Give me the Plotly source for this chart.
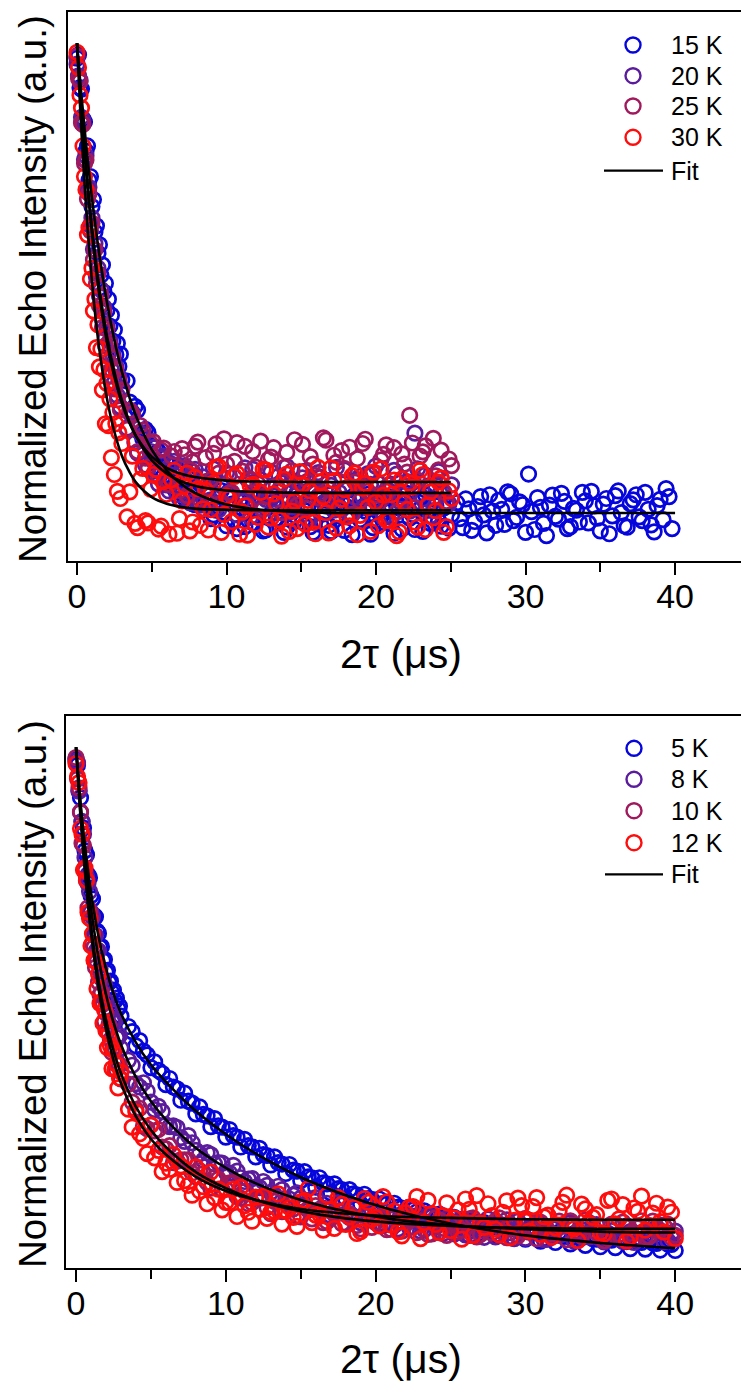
import plotly.graph_objects as go

# ---------------------------------------------------------------- data
# Echo time axis (2tau, microseconds); each scan was recorded on two interleaved grids
TAU_TOP = [0.0, 0.1, 0.2, 0.3, 0.4, 0.5, 0.6, 0.7, 0.8, 0.9,
           1.0, 1.1, 1.2, 1.3, 1.4, 1.5, 1.6, 1.7, 1.8, 1.9,
           2.0, 2.1, 2.2, 2.3, 2.4, 2.5, 2.6, 2.7, 2.8, 2.9,
           3.0,
           3.35, 3.7, 4.05, 4.4, 4.75,
           5.1, 5.45, 5.8, 6.15, 6.5,
           6.85, 7.2, 7.55, 7.9, 8.25,
           8.6, 8.95, 9.3, 9.65, 10.0,
           10.35, 10.7, 11.05, 11.4, 11.75,
           12.1, 12.45, 12.8, 13.15, 13.5,
           13.85, 14.2, 14.55, 14.9, 15.25,
           15.6, 15.95, 16.3, 16.65, 17.0,
           17.35, 17.7, 18.05, 18.4, 18.75,
           19.1, 19.45, 19.8, 20.15, 20.5,
           20.85, 21.2, 21.55, 21.9, 22.25,
           22.6, 22.95, 23.3, 23.65, 24.0,
           24.35, 24.7, 25.05]

TAU_TOP_MID = [3.53, 3.88, 4.23, 4.58, 4.93,
               5.28, 5.63, 5.98, 6.33, 6.68,
               7.03, 7.38, 7.73, 8.08, 8.43,
               8.78, 9.13, 9.48, 9.83, 10.18,
               10.53, 10.88, 11.23, 11.58, 11.93,
               12.28, 12.63, 12.98, 13.33, 13.68,
               14.03, 14.38, 14.73, 15.08, 15.43,
               15.78, 16.13, 16.48, 16.83, 17.18,
               17.53, 17.88, 18.23, 18.58, 18.93,
               19.28, 19.63, 19.98, 20.33, 20.68,
               21.03, 21.38, 21.73, 22.08, 22.43,
               22.78, 23.13, 23.48, 23.83, 24.18,
               24.53, 24.88]

TAU_15K_EXTRA = [25.4, 25.8, 26.2, 26.6, 27.0, 27.4, 27.8, 28.2, 28.6, 29.0,
                 29.4, 29.8, 30.2, 30.6, 31.0, 31.4, 31.8, 32.2, 32.6, 33.0,
                 33.4, 33.8, 34.2, 34.6, 35.0, 35.4, 35.8, 36.2, 36.6, 37.0,
                 37.4, 37.8, 38.2, 38.6, 39.0, 39.4, 39.8]

TAU_15K_EXTRA_MID = [25.6, 26.0, 26.4, 26.8, 27.2, 27.6, 28.0, 28.4, 28.8, 29.2,
                     29.6, 30.0, 30.4, 30.8, 31.2, 31.6, 32.0, 32.4, 32.8, 33.2,
                     33.6, 34.0, 34.4, 34.8, 35.2, 35.6, 36.0, 36.4, 36.8, 37.2,
                     37.6, 38.0, 38.4, 38.8, 39.2, 39.6]

TAU_BOT = [0.0, 0.1, 0.2, 0.3, 0.4, 0.5, 0.6, 0.7, 0.8, 0.9,
           1.0, 1.1, 1.2, 1.3, 1.4, 1.5, 1.6, 1.7, 1.8, 1.9,
           2.0, 2.1, 2.2, 2.3, 2.4, 2.5, 2.6, 2.7, 2.8, 2.9,
           3.0,
           3.5, 4.0, 4.5, 5.0, 5.5, 6.0, 6.5, 7.0, 7.5,
           8.0, 8.5, 9.0, 9.5, 10.0, 10.5, 11.0, 11.5, 12.0,
           12.5, 13.0, 13.5, 14.0, 14.5, 15.0, 15.5, 16.0, 16.5,
           17.0, 17.5, 18.0, 18.5, 19.0, 19.5, 20.0, 20.5, 21.0,
           21.5, 22.0, 22.5, 23.0, 23.5, 24.0, 24.5, 25.0, 25.5,
           26.0, 26.5, 27.0, 27.5, 28.0, 28.5, 29.0, 29.5, 30.0,
           30.5, 31.0, 31.5, 32.0, 32.5, 33.0, 33.5, 34.0, 34.5,
           35.0, 35.5, 36.0, 36.5, 37.0, 37.5, 38.0, 38.5, 39.0,
           39.5, 40.0]

TAU_BOT_MID = [3.75, 4.25, 4.75, 5.25, 5.75, 6.25, 6.75, 7.25, 7.75,
               8.25, 8.75, 9.25, 9.75, 10.25, 10.75, 11.25, 11.75, 12.25,
               12.75, 13.25, 13.75, 14.25, 14.75, 15.25, 15.75, 16.25, 16.75,
               17.25, 17.75, 18.25, 18.75, 19.25, 19.75, 20.25, 20.75, 21.25,
               21.75, 22.25, 22.75, 23.25, 23.75, 24.25, 24.75, 25.25, 25.75,
               26.25, 26.75, 27.25, 27.75, 28.25, 28.75, 29.25, 29.75, 30.25,
               30.75, 31.25, 31.75, 32.25, 32.75, 33.25, 33.75, 34.25, 34.75,
               35.25, 35.75, 36.25, 36.75, 37.25, 37.75, 38.25, 38.75, 39.25,
               39.75]

# Normalized echo intensities, upper panel (15 K - 30 K)
I_15K = [0.968, 0.975, 0.905, 0.902, 0.838, 0.832, 0.770, 0.781, 0.708, 0.716,
         0.652, 0.667, 0.598, 0.611, 0.553, 0.571, 0.506, 0.528, 0.470, 0.489,
         0.431, 0.455, 0.398, 0.421, 0.366, 0.390, 0.337, 0.361, 0.312, 0.338,
         0.284,
         0.281, 0.214, 0.219, 0.158, 0.171,
         0.112, 0.131, 0.079, 0.104, 0.052,
         0.088, 0.031, 0.072, 0.018, 0.061,
         0.041, -0.012, 0.006, 0.048, -0.027,
         0.019, -0.033, 0.030, 0.002, -0.021,
         0.036, -0.038, -0.008, 0.024, 0.011,
         -0.041, 0.027, -0.017, 0.033, 0.005,
         -0.029, 0.044, -0.024, 0.015, -0.039,
         -0.006, 0.022, 0.031, -0.046, 0.008,
         -0.018, 0.040, -0.031, 0.003, -0.020,
         0.034, -0.043, 0.011, 0.026, -0.011,
         -0.035, 0.009, 0.039, -0.022, 0.016,
         -0.028, 0.021, -0.004]
I_15K_MID = [0.236, 0.227, 0.171, 0.178, 0.124,
             0.140, 0.089, 0.107, 0.063, 0.095,
             0.041, 0.078, 0.020, 0.067, 0.009,
             0.053, -0.004, 0.037, 0.002, 0.046,
             -0.015, 0.028, -0.029, 0.040, -0.006,
             0.019, -0.036, 0.031, -0.012, 0.025,
             -0.030, 0.008, 0.043, -0.019, 0.014,
             -0.041, 0.035, -0.002, -0.026, 0.029,
             0.013, -0.037, 0.020, 0.038, -0.014,
             0.004, -0.045, 0.027, -0.008, 0.032,
             -0.023, 0.016, -0.034, 0.042, -0.003,
             0.024, -0.039, 0.006, 0.030, -0.017,
             0.011, -0.032]
I_15K_EXTRA = [0.022, -0.031, 0.009, -0.018, 0.035, -0.042, 0.004, 0.027, -0.024, 0.041,
               -0.009, 0.018, 0.083, -0.035, 0.012, -0.048, 0.038, -0.013, 0.025, -0.029,
               0.006, 0.044, -0.021, 0.015, -0.038, 0.031, -0.006, 0.047, -0.027, 0.020,
               0.039, -0.016, 0.008, -0.040, 0.029, 0.052, -0.033]
I_15K_EXTRA_MID = [-0.012, 0.030, -0.037, 0.014, -0.004, 0.039, -0.026, 0.008, 0.045, -0.016,
                   0.024, -0.041, 0.003, 0.033, -0.022, 0.017, -0.007, 0.042, -0.033, 0.010,
                   -0.019, 0.026, 0.046, -0.011, 0.019, -0.044, 0.037, 0.001, -0.030, 0.028,
                   -0.008, 0.044, -0.025, 0.016, -0.014, 0.035]

I_20K = [0.955, 0.930, 0.921, 0.842, 0.835, 0.752, 0.760, 0.688, 0.693, 0.612,
         0.628, 0.561, 0.573, 0.503, 0.521, 0.462, 0.476, 0.411, 0.438, 0.372,
         0.398, 0.339, 0.366, 0.305, 0.337, 0.278, 0.311, 0.250, 0.289, 0.226,
         0.266,
         0.181, 0.207, 0.128, 0.165, 0.094,
         0.139, 0.062, 0.121, 0.047, 0.110,
         0.030, 0.101, 0.022, 0.093, 0.017,
         0.067, 0.028, 0.011, 0.058, 0.085,
         0.040, -0.004, 0.026, 0.072, 0.093,
         0.047, 0.015, -0.008, 0.036, 0.079,
         0.054, 0.002, 0.068, 0.031, 0.089,
         -0.012, 0.044, 0.076, 0.021, 0.059,
         0.097, 0.008, 0.050, -0.003, 0.071,
         0.035, 0.084, 0.012, 0.063, -0.010,
         0.048, 0.091, 0.025, 0.057, 0.004,
         0.170, 0.039, 0.081, -0.006, 0.052,
         0.074, 0.017, 0.060]
I_20K_MID = [0.213, 0.149, 0.171, 0.102, 0.131,
             0.081, 0.117, 0.060, 0.104, 0.039,
             0.095, 0.033, 0.088, 0.019, 0.077,
             0.026, 0.094, 0.007, 0.061, 0.082,
             0.018, 0.053, 0.096, -0.009, 0.045,
             0.071, 0.029, 0.087, 0.001, 0.064,
             0.099, 0.013, 0.039, 0.075, -0.013,
             0.056, 0.086, 0.022, 0.069, 0.006,
             0.044, 0.092, -0.005, 0.034, 0.078,
             0.016, 0.061, 0.100, 0.027, 0.049,
             -0.008, 0.083, 0.038, 0.067, 0.011,
             0.094, 0.030, 0.058, 0.005, 0.088,
             0.042, 0.020]

I_25K = [0.972, 0.925, 0.918, 0.830, 0.827, 0.744, 0.751, 0.668, 0.680, 0.600,
         0.617, 0.539, 0.560, 0.487, 0.509, 0.441, 0.463, 0.395, 0.428, 0.356,
         0.391, 0.322, 0.357, 0.292, 0.330, 0.264, 0.305, 0.241, 0.283, 0.220,
         0.262,
         0.178, 0.211, 0.131, 0.176, 0.098,
         0.152, 0.079, 0.138, 0.061, 0.131,
         0.048, 0.124, 0.092, 0.142, 0.029,
         0.118, 0.071, 0.147, 0.021, 0.104,
         0.044, 0.150, 0.089, 0.016, 0.131,
         0.062, 0.008, 0.114, 0.139, 0.049,
         0.097, 0.024, 0.156, 0.063, 0.011,
         0.120, 0.080, 0.041, 0.155, 0.027,
         0.108, 0.133, 0.054, -0.003, 0.116,
         0.148, 0.046, 0.085, 0.019, 0.125,
         0.060, 0.139, 0.031, 0.104, 0.208,
         0.012, 0.121, 0.143, 0.052, 0.079,
         0.134, 0.025, 0.101]
I_25K_MID = [0.219, 0.152, 0.186, 0.117, 0.148,
             0.093, 0.134, 0.071, 0.121, 0.055,
             0.137, 0.037, 0.109, 0.151, 0.064,
             0.022, 0.127, 0.085, 0.158, 0.043,
             0.110, 0.006, 0.142, 0.072, 0.098,
             0.153, 0.035, 0.119, 0.058, 0.001,
             0.129, 0.090, 0.017, 0.146, 0.068,
             0.104, 0.033, 0.160, 0.051, 0.123,
             0.009, 0.095, 0.140, 0.066, 0.026,
             0.157, 0.081, 0.038, 0.113, 0.145,
             0.053, 0.002, 0.126, 0.087, 0.149,
             0.070, 0.130, 0.020, 0.159, 0.092,
             0.045, 0.115]

I_30K = [0.980, 0.948, 0.889, 0.862, 0.781, 0.716, 0.688, 0.592, 0.607, 0.498,
         0.521, 0.430, 0.455, 0.352, 0.401, 0.311, 0.349, 0.262, 0.305, 0.190,
         0.276, 0.186, 0.243, 0.118, 0.214, 0.082, 0.190, 0.046, 0.171, 0.031,
         0.148,
         -0.008, 0.121, -0.031, 0.095, -0.021,
         0.082, -0.034, 0.067, -0.045, 0.091,
         -0.012, 0.058, -0.038, 0.076, -0.026,
         0.049, 0.007, 0.098, -0.041, 0.036,
         -0.018, 0.084, 0.002, -0.047, 0.061,
         -0.009, 0.093, -0.030, 0.041, -0.014,
         0.072, -0.039, 0.025, 0.088, -0.023,
         0.047, -0.044, 0.066, 0.001, 0.096,
         -0.032, 0.029, -0.008, 0.079, -0.046,
         0.053, 0.012, 0.087, -0.027, 0.038,
         -0.016, 0.070, -0.040, 0.022, 0.064,
         -0.019, 0.091, -0.035, 0.045, 0.005,
         0.075, -0.029, 0.031]
I_30K_MID = [0.045, -0.022, 0.072, -0.016, 0.051,
             0.093, -0.028, 0.040, 0.071, -0.043,
             0.026, 0.085, -0.019, 0.052, 0.009,
             -0.036, 0.064, 0.099, -0.003, 0.031,
             0.078, -0.045, 0.016, 0.058, -0.024,
             0.044, 0.092, -0.011, 0.020, -0.049,
             0.083, 0.004, -0.033, 0.060, 0.027,
             -0.020, 0.097, 0.035, -0.042, 0.069,
             0.011, 0.050, -0.027, 0.085, -0.005,
             0.063, -0.039, 0.024, 0.094, -0.015,
             0.039, -0.048, 0.073, 0.008, 0.055,
             -0.030, 0.082, 0.017, -0.010, 0.066,
             -0.041, 0.047]

# Normalized echo intensities, lower panel (5 K - 12 K)
I_5K = [0.975, 0.962, 0.908, 0.893, 0.842, 0.829, 0.781, 0.772, 0.730, 0.724,
        0.686, 0.679, 0.644, 0.641, 0.611, 0.606, 0.577, 0.578, 0.549, 0.551,
        0.524, 0.528, 0.503, 0.505, 0.481, 0.486, 0.463, 0.469, 0.447, 0.452,
        0.431,
        0.409, 0.368, 0.357, 0.322, 0.316, 0.286, 0.281, 0.253, 0.251,
        0.224, 0.223, 0.197, 0.199, 0.175, 0.178, 0.154, 0.157, 0.133,
        0.138, 0.116, 0.121, 0.098, 0.105, 0.083, 0.091, 0.069, 0.078,
        0.057, 0.066, 0.044, 0.055, 0.033, 0.045, 0.022, 0.035, 0.013,
        0.027, 0.004, 0.021, -0.004, 0.012, -0.009, 0.004, -0.016, -0.003,
        -0.022, -0.008, -0.027, -0.014, -0.032, -0.018, -0.037, -0.023, -0.041,
        -0.027, -0.045, -0.030, -0.048, -0.034, -0.051, -0.037, -0.054, -0.040,
        -0.057, -0.042, -0.059, -0.045, -0.061, -0.047, -0.062, -0.049, -0.064,
        -0.051, -0.065]
I_5K_MID = [0.398, 0.379, 0.349, 0.334, 0.310, 0.299, 0.277, 0.268, 0.247,
            0.239, 0.220, 0.214, 0.196, 0.191, 0.175, 0.170, 0.154, 0.151,
            0.136, 0.133, 0.118, 0.117, 0.103, 0.102, 0.089, 0.089, 0.076,
            0.076, 0.064, 0.064, 0.053, 0.054, 0.043, 0.044, 0.033, 0.035,
            0.025, 0.027, 0.017, 0.019, 0.009, 0.012, 0.002, 0.005, -0.005,
            -0.001, -0.010, -0.006, -0.015, -0.010, -0.020, -0.015, -0.024, -0.019,
            -0.028, -0.023, -0.031, -0.026, -0.035, -0.029, -0.038, -0.032, -0.041,
            -0.035, -0.043, -0.038, -0.046, -0.040, -0.048, -0.042, -0.050, -0.044,
            -0.052]

I_8K = [0.971, 0.967, 0.907, 0.862, 0.843, 0.816, 0.766, 0.725, 0.712, 0.695,
        0.651, 0.641, 0.602, 0.602, 0.571, 0.569, 0.531, 0.511, 0.509, 0.499,
        0.462, 0.476, 0.446, 0.442, 0.420, 0.424, 0.422, 0.386, 0.385, 0.390,
        0.363,
        0.338, 0.288, 0.290, 0.249, 0.240, 0.201, 0.199, 0.174, 0.178,
        0.147, 0.126, 0.138, 0.121, 0.101, 0.115, 0.089, 0.086, 0.069,
        0.081, 0.058, 0.071, 0.040, 0.052, 0.046, 0.021, 0.047, 0.025,
        0.009, 0.036, 0.012, 0.030, -0.006, 0.011, 0.024, -0.012, 0.008,
        -0.019, 0.014, -0.001, -0.024, 0.010, -0.015, -0.029, 0.006, -0.008,
        -0.032, -0.004, -0.021, 0.002, -0.036, -0.011, -0.027, -0.003, -0.039,
        -0.016, -0.008, -0.041, -0.019, -0.030, -0.006, -0.043, -0.022, -0.012,
        -0.040, -0.028, -0.009, -0.045, -0.025, -0.014, -0.038, -0.031, -0.011,
        -0.044, -0.024]
I_8K_MID = [0.327, 0.281, 0.272, 0.233, 0.229, 0.197, 0.195, 0.166, 0.163,
            0.140, 0.142, 0.118, 0.120, 0.099, 0.103, 0.081, 0.087, 0.068,
            0.073, 0.053, 0.064, 0.044, 0.057, 0.031, 0.044, 0.022, 0.035,
            0.012, 0.031, 0.005, 0.027, -0.002, 0.020, -0.008, 0.017, -0.012,
            0.012, -0.016, 0.009, -0.021, 0.006, -0.026, 0.003, -0.030, 0.001,
            -0.033, -0.005, -0.037, -0.009, -0.031, 0.000, -0.040, -0.013, -0.026,
            -0.004, -0.042, -0.017, -0.033, -0.007, -0.045, -0.020, -0.036, -0.010,
            -0.047, -0.023, -0.039, -0.013, -0.048, -0.027, -0.034, -0.016, -0.046,
            -0.029]

I_10K = [0.978, 0.933, 0.914, 0.863, 0.797, 0.792, 0.737, 0.717, 0.660, 0.651,
         0.636, 0.585, 0.577, 0.534, 0.547, 0.503, 0.476, 0.481, 0.456, 0.420,
         0.437, 0.400, 0.413, 0.381, 0.354, 0.365, 0.360, 0.317, 0.331, 0.327,
         0.298,
         0.287, 0.233, 0.198, 0.200, 0.191, 0.150, 0.121, 0.127, 0.127,
         0.091, 0.098, 0.067, 0.086, 0.065, 0.078, 0.046, 0.034, 0.046,
         0.047, 0.013, 0.044, 0.019, 0.023, 0.006, 0.023, 0.030, -0.006,
         0.003, 0.019, -0.007, 0.007, -0.019, 0.018, -0.006, 0.007, -0.020,
         -0.003, 0.008, -0.015, -0.002, -0.031, 0.004, -0.018, -0.011, -0.025,
         -0.006, 0.004, -0.031, -0.019, -0.002, -0.026, -0.010, -0.034, 0.003,
         -0.019, -0.005, -0.031, -0.014, -0.026, -0.002, -0.024, 0.000, -0.034,
         -0.014, -0.039, -0.011, -0.005, -0.029, -0.017, -0.037, -0.003, -0.023,
         -0.009, -0.033]
I_10K_MID = [0.249, 0.236, 0.193, 0.188, 0.154, 0.157, 0.124, 0.127, 0.099,
             0.104, 0.079, 0.090, 0.064, 0.078, 0.049, 0.060, 0.036, 0.046,
             0.026, 0.039, 0.017, 0.032, 0.008, 0.027, 0.002, 0.021, -0.004,
             0.016, -0.008, 0.013, -0.012, 0.009, -0.016, 0.006, -0.021, 0.003,
             -0.024, 0.001, -0.027, -0.004, -0.030, 0.000, -0.033, -0.007, -0.022,
             0.002, -0.036, -0.010, -0.028, 0.004, -0.038, -0.015, -0.024, -0.001,
             -0.040, -0.019, -0.030, -0.003, -0.042, -0.012, -0.035, -0.006, -0.027,
             -0.044, -0.009, -0.031, -0.016, -0.041, -0.002, -0.036, -0.021, -0.013,
             -0.038]

I_12K = [0.965, 0.938, 0.925, 0.828, 0.816, 0.740, 0.745, 0.719, 0.651, 0.638,
         0.580, 0.605, 0.549, 0.547, 0.489, 0.520, 0.458, 0.461, 0.416, 0.445,
         0.400, 0.364, 0.393, 0.368, 0.320, 0.359, 0.318, 0.329, 0.279, 0.300,
         0.313,
         0.234, 0.228, 0.172, 0.201, 0.147, 0.120, 0.138, 0.114, 0.073,
         0.112, 0.070, 0.101, 0.065, 0.037, 0.065, 0.069, 0.016, 0.048,
         0.050, 0.016, 0.055, 0.019, 0.005, 0.038, 0.066, 0.010, -0.022,
         0.021, 0.047, -0.010, 0.026, -0.025, 0.037, 0.005, 0.049, -0.011,
         -0.025, 0.015, 0.028, -0.040, 0.041, -0.010, 0.009, -0.023, 0.021,
         0.044, -0.033, -0.007, 0.034, -0.020, 0.016, -0.038, 0.046, -0.003,
         0.028, -0.031, 0.010, -0.017, 0.037, -0.013, -0.044, 0.023, 0.005,
         -0.027, 0.041, -0.009, 0.032, -0.036, 0.018, -0.022, 0.014, -0.004,
         0.027, -0.040]
I_12K_MID = [0.196, 0.182, 0.140, 0.131, 0.102, 0.107, 0.079, 0.083, 0.052,
             0.061, 0.034, 0.047, 0.021, 0.036, 0.007, 0.030, -0.003, 0.022,
             0.003, 0.018, -0.009, 0.026, -0.014, 0.041, -0.006, 0.012, 0.052,
             -0.018, 0.033, 0.006, -0.029, 0.045, 0.001, -0.013, 0.038, 0.019,
             -0.034, 0.027, 0.049, -0.006, 0.013, -0.027, 0.036, 0.004, -0.041,
             0.022, 0.051, -0.016, 0.009, -0.032, 0.040, -0.001, 0.030, -0.024,
             0.047, 0.006, -0.037, 0.019, 0.052, -0.019, 0.033, -0.008, 0.011,
             -0.030, 0.044, 0.002, -0.045, 0.025, 0.050, -0.012, 0.035, -0.026,
             0.016]

# Fitted decay curves
FIT_TAU_TOP = [0, 0.25, 0.5, 0.75, 1, 1.25, 1.5, 2, 2.5, 3, 3.5, 4, 5, 6, 7, 8,
               10, 12, 15, 20, 25]
FIT_TAU_15K = FIT_TAU_TOP + [30, 35, 40]
FIT_15K = [1.000, 0.905, 0.819, 0.741, 0.670, 0.607, 0.549, 0.449, 0.368, 0.301,
           0.247, 0.202, 0.135, 0.091, 0.061, 0.041, 0.018, 0.008, 0.002, 0.000,
           0.000, 0.000, 0.000, 0.000]
FIT_20K = [1.000, 0.882, 0.779, 0.688, 0.609, 0.539, 0.478, 0.377, 0.300, 0.240,
           0.195, 0.160, 0.112, 0.084, 0.067, 0.057, 0.048, 0.045, 0.043, 0.043,
           0.043]
FIT_25K = [1.000, 0.876, 0.768, 0.674, 0.594, 0.524, 0.462, 0.364, 0.290, 0.234,
           0.192, 0.161, 0.120, 0.096, 0.083, 0.076, 0.069, 0.067, 0.066, 0.066,
           0.066]
FIT_30K = [1.000, 0.837, 0.702, 0.588, 0.493, 0.413, 0.347, 0.244, 0.173, 0.122,
           0.088, 0.063, 0.034, 0.020, 0.013, 0.009, 0.007, 0.006, 0.006, 0.006,
           0.006]

FIT_TAU_BOT = [0, 0.25, 0.5, 0.75, 1, 1.5, 2, 2.5, 3, 4, 5, 6, 8, 10, 12, 15, 18,
               21, 25, 30, 35, 40]
FIT_5K = [1.000, 0.903, 0.820, 0.752, 0.693, 0.600, 0.532, 0.479, 0.437, 0.375,
          0.328, 0.292, 0.230, 0.181, 0.140, 0.090, 0.052, 0.022, -0.008, -0.033,
          -0.049, -0.060]
FIT_8K = [1.000, 0.893, 0.801, 0.725, 0.659, 0.555, 0.477, 0.418, 0.371, 0.302,
          0.251, 0.212, 0.152, 0.110, 0.077, 0.042, 0.018, 0.002, -0.011, -0.020,
          -0.025, -0.027]
FIT_10K = [1.000, 0.880, 0.778, 0.693, 0.620, 0.507, 0.423, 0.359, 0.310, 0.239,
           0.190, 0.154, 0.101, 0.067, 0.042, 0.018, 0.003, -0.006, -0.013, -0.017,
           -0.019, -0.019]
FIT_12K = [1.000, 0.875, 0.770, 0.682, 0.607, 0.490, 0.403, 0.338, 0.289, 0.219,
           0.171, 0.138, 0.091, 0.061, 0.042, 0.023, 0.013, 0.007, 0.004, 0.001,
           0.000, 0.000]

TOP_LABELS = ["15 K", "20 K", "25 K", "30 K"]
BOT_LABELS = ["5 K", "8 K", "10 K", "12 K"]
TICKS = [0, 10, 20, 30, 40]
MINOR_TICKS = [5, 15, 25, 35]

top_series = [
    (TAU_TOP + TAU_TOP_MID + TAU_15K_EXTRA + TAU_15K_EXTRA_MID,
     I_15K + I_15K_MID + I_15K_EXTRA + I_15K_EXTRA_MID),
    (TAU_TOP + TAU_TOP_MID, I_20K + I_20K_MID),
    (TAU_TOP + TAU_TOP_MID, I_25K + I_25K_MID),
    (TAU_TOP + TAU_TOP_MID, I_30K + I_30K_MID),
]
bot_series = [
    (TAU_BOT + TAU_BOT_MID, I_5K + I_5K_MID),
    (TAU_BOT + TAU_BOT_MID, I_8K + I_8K_MID),
    (TAU_BOT + TAU_BOT_MID, I_10K + I_10K_MID),
    (TAU_BOT + TAU_BOT_MID, I_12K + I_12K_MID),
]
top_fits = [(FIT_TAU_15K, FIT_15K), (FIT_TAU_TOP, FIT_20K),
            (FIT_TAU_TOP, FIT_25K), (FIT_TAU_TOP, FIT_30K)]
bot_fits = [(FIT_TAU_BOT, FIT_5K), (FIT_TAU_BOT, FIT_8K),
            (FIT_TAU_BOT, FIT_10K), (FIT_TAU_BOT, FIT_12K)]

for xs, ys in top_series + bot_series + top_fits + bot_fits:
    assert len(xs) == len(ys), (len(xs), len(ys))

# ---------------------------------------------------------------- style
W, H = 741, 1382
FONT = "Liberation Sans, Arial, Helvetica, sans-serif"
COLORS = ["#0505DC", "#5A1C9C", "#A0195C", "#FF0C0C"]
MARKER_SIZE = 14.5
MARKER_LINE = 2.7
FIT_WIDTH = 2.6


def px_x(p):
    return p / W


def px_y(p):
    return 1 - p / H


fig = go.Figure()


def add_panel(series, fits, labels, xa, ya):
    for (xs, ys), name, col in zip(series, labels, COLORS):
        fig.add_trace(go.Scatter(x=xs, y=ys, mode="markers", name=name, showlegend=False,
                                 xaxis=xa, yaxis=ya,
                                 marker=dict(symbol="circle-open", size=MARKER_SIZE,
                                             color=col, line=dict(width=MARKER_LINE))))
    for xs, ys in fits:
        fig.add_trace(go.Scatter(x=xs, y=ys, mode="lines", name="Fit", showlegend=False,
                                 xaxis=xa, yaxis=ya,
                                 line=dict(color="black", width=FIT_WIDTH, shape="spline")))


add_panel(top_series, top_fits, TOP_LABELS, "x", "y")
add_panel(bot_series, bot_fits, BOT_LABELS, "x2", "y2")


def xaxis_style(domain_left, rng, anchor):
    return dict(domain=[domain_left, 1.0], range=rng, anchor=anchor,
                showline=True, linecolor="black", linewidth=2, mirror=True,
                showgrid=False, zeroline=False,
                tickmode="array", tickvals=TICKS, ticks="outside",
                ticklen=12, tickwidth=2, tickcolor="black", ticklabelstandoff=-8,
                minor=dict(tickmode="array", tickvals=MINOR_TICKS,
                           ticks="outside", ticklen=9, tickwidth=2, tickcolor="black"),
                tickfont=dict(family=FONT, size=34, color="black"))


def yaxis_style(domain, anchor):
    return dict(domain=domain, range=[-0.102, 1.066], anchor=anchor,
                showline=True, linecolor="black", linewidth=2, mirror=False,
                showgrid=False, zeroline=False, ticks="", showticklabels=False)


fig.update_layout(
    width=W, height=H,
    margin=dict(l=0, r=0, t=0, b=0),
    paper_bgcolor="white", plot_bgcolor="white",
    showlegend=False,
    xaxis=xaxis_style(px_x(68), [-0.602, 44.41], "y"),
    yaxis=yaxis_style([px_y(561), px_y(12)], "x"),
    xaxis2=xaxis_style(px_x(66), [-0.668, 44.39], "y2"),
    yaxis2=yaxis_style([px_y(1268), px_y(716)], "x2"),
)

annotations = []
shapes = []

# axis titles
for yc in (289, 994):
    annotations.append(dict(text="Normalized Echo Intensity (a.u.)", textangle=-90,
                            xref="paper", yref="paper", x=px_x(33), y=px_y(yc),
                            xanchor="center", yanchor="middle", showarrow=False,
                            font=dict(family=FONT, size=38.5, color="black")))
for yc in (654, 1359):
    annotations.append(dict(text="2τ (μs)", xref="paper", yref="paper",
                            x=px_x(401), y=px_y(yc), xanchor="center", yanchor="middle",
                            showarrow=False,
                            font=dict(family=FONT, size=41, color="black")))

# legends
legend_specs = [
    (TOP_LABELS, 633, [45, 75.7, 106, 137.3], 170.7, 604),
    (BOT_LABELS, 634, [748.3, 779.3, 810.7, 842.7], 874.3, 605),
]
for labels, cx, rows, fit_y, line_x0 in legend_specs:
    for lab, col, yc in zip(labels, COLORS, rows):
        shapes.append(dict(type="circle", xref="paper", yref="paper",
                           xsizemode="pixel", ysizemode="pixel",
                           xanchor=px_x(cx), yanchor=px_y(yc),
                           x0=-7.5, x1=7.5, y0=-7.5, y1=7.5,
                           line=dict(color=col, width=2.4)))
        annotations.append(dict(text=lab, xref="paper", yref="paper",
                                x=px_x(669), y=px_y(yc), xanchor="left", yanchor="middle",
                                showarrow=False,
                                font=dict(family=FONT, size=25, color="black")))
    shapes.append(dict(type="line", xref="paper", yref="paper",
                       x0=px_x(line_x0), x1=px_x(663), y0=px_y(fit_y), y1=px_y(fit_y),
                       line=dict(color="black", width=2.2)))
    annotations.append(dict(text="Fit", xref="paper", yref="paper",
                            x=px_x(669), y=px_y(fit_y), xanchor="left", yanchor="middle",
                            showarrow=False,
                            font=dict(family=FONT, size=25, color="black")))

fig.update_layout(annotations=annotations, shapes=shapes)

fig.write_html("out.html")
